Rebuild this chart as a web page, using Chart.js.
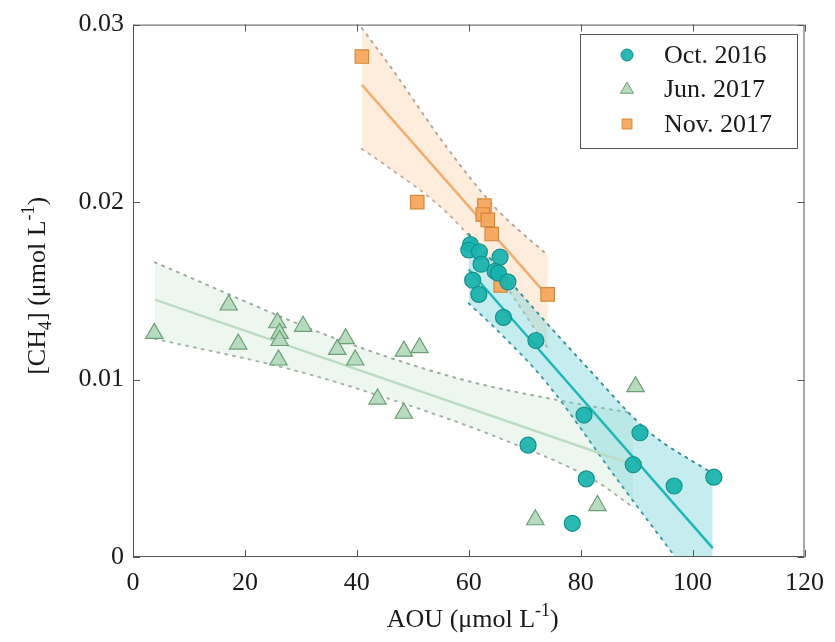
<!DOCTYPE html>
<html>
<head>
<meta charset="utf-8">
<title>CH4 vs AOU</title>
<script src="https://cdn.jsdelivr.net/npm/chart.js@4.4.1/dist/chart.umd.min.js"></script>
<style>
  html, body { margin: 0; padding: 0; background: #fff; }
  #wrap { width: 835px; height: 642px; }
</style>
</head>
<body>
<div id="wrap"><canvas id="chart" width="835" height="642"></canvas></div>
<script>
// ─── Data ─────────────────────────────────────────────────────────

const xTicks = [0, 20, 40, 60, 80, 100, 120];
const yTicks = [0, 0.01, 0.02, 0.03];

// Oct. 2016
const octAOU = [60.3, 60.0, 61.9, 65.6, 62.2, 64.7, 65.3, 67.0, 60.7, 61.8, 66.2, 72.0, 80.6, 90.6, 70.6, 89.4, 81.0, 96.7, 103.8, 78.5];
const octCH4 = [0.0176, 0.0173, 0.0172, 0.0169, 0.0165, 0.0161, 0.0160, 0.0155, 0.0156, 0.0148, 0.0135, 0.0122, 0.0080, 0.0070, 0.0063, 0.0052, 0.0044, 0.0040, 0.0045, 0.0019];
const octFitX = [60.0, 103.6];
const octFitY = [0.0162, 0.0005];
const octUpX = [60.0, 73.6, 81.4, 92.0, 103.6];
const octUpY = [0.0182, 0.0133, 0.0106, 0.0071, 0.0047];
const octLoX = [60.0, 64.7, 73.7, 86.7, 96.2, 103.6];
const octLoY = [0.0143, 0.0129, 0.0099, 0.0043, 0.0003, -0.0028];

// Jun. 2017
const junAOU = [3.8, 17.1, 18.8, 25.8, 26.2, 26.2, 26.0, 30.4, 38.0, 36.5, 39.7, 43.7, 48.4, 51.2, 48.4, 89.8, 83.0, 71.9];
const junCH4 = [0.0126, 0.0142, 0.0120, 0.0132, 0.0126, 0.0122, 0.0111, 0.0130, 0.0123, 0.0117, 0.0111, 0.0089, 0.0116, 0.0118, 0.0081, 0.0096, 0.0029, 0.0021];
const junFitX = [3.9, 89.4];
const junFitY = [0.0145, 0.0052];
const junUpX = [3.9, 36.3, 58.8, 76.6, 89.4];
const junUpY = [0.0166, 0.0123, 0.0100, 0.0088, 0.0081];
const junLoX = [3.9, 29.1, 46.9, 64.7, 82.6, 89.4];
const junLoY = [0.0123, 0.0105, 0.0088, 0.0068, 0.0043, 0.0028];

// Nov. 2017
const novAOU = [40.9, 50.8, 62.8, 62.5, 63.4, 64.1, 65.7, 74.1];
const novCH4 = [0.0282, 0.0200, 0.0198, 0.0193, 0.0190, 0.0182, 0.0153, 0.0148];
const novFitX = [40.9, 74.1];
const novFitY = [0.0266, 0.0147];
const novUpX = [40.9, 46.3, 55.8, 64.7, 74.1];
const novUpY = [0.0298, 0.0275, 0.0232, 0.0197, 0.0170];
const novLoX = [40.9, 44.6, 55.8, 61.8, 74.1];
const novLoY = [0.0230, 0.0222, 0.0195, 0.0174, 0.0118];

// ─── Styling ──────────────────────────────────────────────────────

const FONT = '"Liberation Serif", "Times New Roman", serif';
const TEXT = '#1a1a1a';
const FRAME = '#555555';

const teal   = { fill: 'rgba(24,178,172,0.92)',  edge: '#14908a', line: '#22b6b6', band: 'rgba(110,210,218,0.40)', dots: '#3f8f95' };
const green  = { fill: 'rgba(178,216,186,0.92)', edge: '#6d9e78', line: '#bcdcc3', band: 'rgba(200,230,208,0.32)', dots: '#a0aca4' };
const orange = { fill: 'rgba(247,166,94,0.95)',  edge: '#d5873d', line: '#f2ae70', band: 'rgba(252,214,180,0.45)', dots: '#b9a79a' };

const zip = (xs, ys) => xs.map((x, i) => ({ x, y: ys[i] }));

function pointSet(label, xs, ys, c, style, radius, order) {
  return {
    label, data: zip(xs, ys), order,
    pointStyle: style, pointRadius: radius,
    backgroundColor: c.fill, borderColor: c.edge, pointBorderWidth: 1.2,
    showLine: false, isSeries: true,
  };
}

function lineSet(xs, ys, color, order) {
  return {
    label: '', data: zip(xs, ys), order,
    showLine: true, pointRadius: 0, borderColor: color, borderWidth: 2.5, fill: false,
  };
}

function bandSet(xs, ys, c, order, fillTo) {
  return {
    label: '', data: zip(xs, ys), order,
    showLine: true, pointRadius: 0, borderColor: c.dots, borderWidth: 2,
    borderDash: [2, 6], borderCapStyle: 'round',
    cubicInterpolationMode: 'monotone',
    fill: fillTo === undefined ? false : fillTo,
    backgroundColor: c.band,
  };
}

// dataset indices matter for the band fills (fill: <index of lower edge>)
const datasets = [
  pointSet('Oct. 2016', octAOU, octCH4, teal, 'circle', 8, 0),        // 0
  pointSet('Jun. 2017', junAOU, junCH4, green, 'triangle', 10, 2),    // 1
  pointSet('Nov. 2017', novAOU, novCH4, orange, 'rect', 9.5, 1),      // 2
  lineSet(octFitX, octFitY, teal.line, 3),                            // 3
  lineSet(junFitX, junFitY, green.line, 5),                           // 4
  lineSet(novFitX, novFitY, orange.line, 4),                          // 5
  bandSet(octUpX, octUpY, teal, 6, 7),                                // 6
  bandSet(octLoX, octLoY, teal, 6),                                   // 7
  bandSet(junUpX, junUpY, green, 8, 9),                               // 8
  bandSet(junLoX, junLoY, green, 8),                                  // 9
  bandSet(novUpX, novUpY, orange, 7, 11),                             // 10
  bandSet(novLoX, novLoY, orange, 7),                                 // 11
];

// ─── Plugins: box frame, axis titles with sub/superscripts, legend ─

function drawRich(ctx, parts, cx, cy, size) {
  const small = Math.round(size * 0.68);
  let total = 0;
  parts.forEach(([t, m]) => {
    ctx.font = `${m ? small : size}px ${FONT}`;
    total += ctx.measureText(t).width;
  });
  let x = cx - total / 2;
  ctx.textBaseline = 'alphabetic';
  ctx.textAlign = 'left';
  parts.forEach(([t, m]) => {
    ctx.font = `${m ? small : size}px ${FONT}`;
    const dy = m === 1 ? -size * 0.42 : m === -1 ? size * 0.22 : 0;
    ctx.fillText(t, x, cy + dy);
    x += ctx.measureText(t).width;
  });
}

const framePlugin = {
  id: 'frame',
  afterDatasetsDraw(chart) {
    const { ctx, chartArea: a, scales } = chart;
    ctx.save();
    ctx.strokeStyle = FRAME;
    ctx.lineWidth = 1;
    ctx.strokeRect(a.left + 0.5, a.top + 0.5, a.right - a.left - 1, a.bottom - a.top - 1);
    const tl = 7;
    ctx.beginPath();
    scales.x.ticks.forEach((t) => {
      const px = Math.round(scales.x.getPixelForValue(t.value)) + 0.5;
      ctx.moveTo(px, a.bottom); ctx.lineTo(px, a.bottom - tl);
      ctx.moveTo(px, a.top); ctx.lineTo(px, a.top + tl);
    });
    scales.y.ticks.forEach((t) => {
      const py = Math.round(scales.y.getPixelForValue(t.value)) + 0.5;
      ctx.moveTo(a.left, py); ctx.lineTo(a.left + tl, py);
      ctx.moveTo(a.right, py); ctx.lineTo(a.right - tl, py);
    });
    ctx.stroke();
    ctx.restore();
  },
  afterDraw(chart) {
    const { ctx, chartArea: a } = chart;
    ctx.save();
    ctx.fillStyle = TEXT;
    // x title
    drawRich(ctx, [['AOU (\u03bcmol L', 0], ['-1', 1], [')', 0]], (a.left + a.right) / 2 + 4, 627, 26);
    // y title, rotated
    ctx.translate(45, (a.top + a.bottom) / 2 - 5);
    ctx.rotate(-Math.PI / 2);
    drawRich(ctx, [['[CH', 0], ['4', -1], ['] (\u03bcmol L', 0], ['-1', 1], [')', 0]], 0, 0, 26);
    ctx.restore();

    // legend box
    const box = { x: 580.5, y: 34.5, w: 217, h: 114 };
    ctx.save();
    ctx.fillStyle = '#fff';
    ctx.fillRect(box.x, box.y, box.w, box.h);
    ctx.strokeStyle = FRAME;
    ctx.lineWidth = 1;
    ctx.strokeRect(box.x, box.y, box.w, box.h);
    const rows = chart.data.datasets.filter((d) => d.isSeries);
    rows.forEach((d, i) => {
      const y = 55 + i * 34.5;
      ctx.fillStyle = d.backgroundColor;
      ctx.strokeStyle = d.borderColor;
      ctx.lineWidth = 1;
      const r = d.pointStyle === 'circle' ? 6 : d.pointStyle === 'triangle' ? 7.5 : 7;
      Chart.helpers.drawPoint(ctx, { pointStyle: d.pointStyle, radius: r, rotation: 0, borderWidth: 1 }, 627, y);
      ctx.fillStyle = TEXT;
      ctx.font = `26px ${FONT}`;
      ctx.textAlign = 'left';
      ctx.textBaseline = 'middle';
      ctx.fillText(d.label, 664, y + 1);
    });
    ctx.restore();
  },
};

// ─── Chart ────────────────────────────────────────────────────────

new Chart(document.getElementById('chart'), {
  type: 'scatter',
  data: { datasets },
  options: {
    responsive: false,
    animation: false,
    devicePixelRatio: 1,
    layout: { padding: { top: 23, right: 28, left: 0, bottom: 0 } },
    plugins: {
      legend: { display: false },
      tooltip: { enabled: false },
      filler: { propagate: false },
    },
    scales: {
      x: {
        type: 'linear', min: 0, max: 120,
        afterBuildTicks: (s) => { s.ticks = xTicks.map((v) => ({ value: v })); },
        afterFit: (s) => { s.height = 85; },
        grid: { display: false, drawTicks: false },
        border: { display: false },
        ticks: { color: TEXT, padding: 11, font: { family: FONT, size: 26 }, maxRotation: 0 },
      },
      y: {
        type: 'linear', min: 0, max: 0.03,
        afterBuildTicks: (s) => { s.ticks = yTicks.map((v) => ({ value: v })); },
        afterFit: (s) => { s.width = 133; },
        grid: { display: false, drawTicks: false },
        border: { display: false },
        ticks: {
          color: TEXT, padding: 9, font: { family: FONT, size: 26 },
          callback: (v) => String(+v.toFixed(2)),
        },
      },
    },
  },
  plugins: [framePlugin],
});
</script>
</body>
</html>
